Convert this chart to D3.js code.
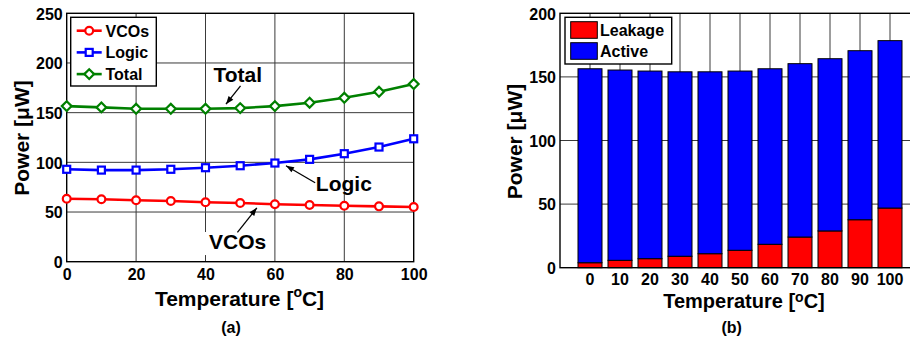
<!DOCTYPE html>
<html>
<head>
<meta charset="utf-8">
<script src="https://cdn.jsdelivr.net/npm/d3@7"></script>
<style>
    html, body { margin: 0; padding: 0; background: #fff; }
    svg { display: block; font-family: "Liberation Sans", Arial, sans-serif; }
</style>
</head>
<body>
<svg id="chart" width="910" height="343"></svg>
<script>
/////////////////////////////////
// Power vs temperature: (a) line chart, (b) stacked bars.
//

// Temperatures shared by both panels.
const temperatures = [0, 10, 20, 30, 40, 50, 60, 70, 80, 90, 100];

// Panel (a) series, in uW.
const vcoPower = [63.4, 62.8, 61.8, 61.1, 59.8, 59.1, 57.8, 57.1, 56.3, 55.7, 55.0];
const logicPower = [93.0, 92.2, 92.2, 93.0, 94.6, 96.6, 99.3, 103.0, 108.7, 115.4, 123.7];
const totalPower = [156.6, 155.3, 153.9, 153.9, 153.9, 154.6, 156.6, 160.0, 165.0, 171.0, 178.8];

// Panel (b) stacked series, in uW.
const leakagePower = [3.9, 5.8, 7.1, 9.0, 11.0, 13.7, 18.4, 24.1, 28.9, 37.7, 46.9];
const activePower = [152.5, 149.6, 147.5, 145.0, 143.0, 140.9, 138.0, 136.3, 135.4, 132.9, 131.6];

// Tick labels.
const lineXTicks = [0, 20, 40, 60, 80, 100];
const lineYTicks = [0, 50, 100, 150, 200, 250];
const barYTicks = [0, 50, 100, 150, 200];

document.addEventListener("DOMContentLoaded", () => {

    const svg = d3.select("#chart");
    const gridColor = "#3a3a3a";

    // Shared helpers for the bold MATLAB-ish text.
    const tickFont = (sel) => sel.attr("font-size", 16).attr("font-weight", "bold").attr("fill", "#000");

    const axisTitle = (g, x, y, rotate, size, parts, lift = 9) => {

        const t = g.append("text")
            .attr("font-size", size)
            .attr("font-weight", "bold")
            .attr("text-anchor", "middle")
            .attr("transform", `translate(${x},${y}) rotate(${rotate})`);
        parts.forEach((p) => {

            const span = t.append("tspan").text(p.text);
            if (p.sup) {
                span.attr("font-size", 14).attr("dy", -lift);
            } else if (p.after) {
                span.attr("dy", lift);
            }
        });
    };

    const arrowHead = (g, x1, y1, x2, y2) => {

        g.append("line")
            .attr("x1", x1).attr("y1", y1)
            .attr("x2", x2).attr("y2", y2)
            .attr("stroke", "#000")
            .attr("stroke-width", 1.3);
        const a = Math.atan2(y2 - y1, x2 - x1);
        const len = 8, w = 3;
        const pts = [
            [x2, y2],
            [x2 - len * Math.cos(a) + w * Math.sin(a), y2 - len * Math.sin(a) - w * Math.cos(a)],
            [x2 - len * Math.cos(a) - w * Math.sin(a), y2 - len * Math.sin(a) + w * Math.cos(a)]
        ];
        g.append("polygon").attr("points", pts.map((p) => p.join(",")).join(" ")).attr("fill", "#000");
    };

    //////////////////////
    // Panel (a): lines.
    //
    const a = svg.append("g");
    const xA = d3.scaleLinear().domain([0, 100]).range([66.7, 413.7]);
    const yA = d3.scaleLinear().domain([0, 250]).range([261.7, 13.3]);

    // Grid.
    a.append("g").selectAll("line.v")
        .data(lineXTicks.slice(1, -1))
        .enter().append("line")
        .attr("x1", (d) => xA(d)).attr("x2", (d) => xA(d))
        .attr("y1", yA(250)).attr("y2", yA(0))
        .attr("stroke", gridColor).attr("stroke-width", 1);
    a.append("g").selectAll("line.h")
        .data(lineYTicks.slice(1, -1))
        .enter().append("line")
        .attr("x1", xA(0)).attr("x2", xA(100))
        .attr("y1", (d) => yA(d)).attr("y2", (d) => yA(d))
        .attr("stroke", gridColor).attr("stroke-width", 1);

    // White box behind the VCOs note.
    a.append("rect")
        .attr("x", xA(39.6)).attr("y", yA(29.9))
        .attr("width", xA(59.6) - xA(39.6)).attr("height", yA(6.7) - yA(29.9))
        .attr("fill", "#fff");

    // Axes.
    const axA = a.append("g");
    axA.append("g")
        .attr("transform", `translate(0,${yA(0)})`)
        .call(d3.axisBottom(xA).tickValues(lineXTicks).tickSize(0).tickPadding(7))
        .call((g) => g.select(".domain").remove())
        .selectAll("text").call(tickFont);
    axA.append("g")
        .attr("transform", `translate(${xA(0)},0)`)
        .call(d3.axisLeft(yA).tickValues(lineYTicks).tickSize(0).tickPadding(4))
        .call((g) => g.select(".domain").remove())
        .selectAll("text").call(tickFont).attr("dy", "0.36em");
    a.append("rect")
        .attr("x", xA(0)).attr("y", yA(250))
        .attr("width", xA(100) - xA(0)).attr("height", yA(0) - yA(250))
        .attr("fill", "none").attr("stroke", "#000").attr("stroke-width", 1.4);

    // Series.
    const series = [
        { name: "VCOs", values: vcoPower, color: "#ff0000", marker: "circle" },
        { name: "Logic", values: logicPower, color: "#0000ff", marker: "square" },
        { name: "Total", values: totalPower, color: "#008000", marker: "diamond" }
    ];

    const drawMarker = (g, kind, color) => {

        if (kind === "circle") {
            g.append("circle").attr("r", 3.9);
        } else if (kind === "square") {
            g.append("rect").attr("x", -3.5).attr("y", -3.5).attr("width", 7).attr("height", 7);
        } else {
            g.append("path").attr("d", "M0,-4.9L4.9,0L0,4.9L-4.9,0Z");
        }
        g.selectAll("*").attr("fill", "#fff").attr("stroke", color).attr("stroke-width", 2.2);
    };

    const line = d3.line()
        .x((d, i) => xA(temperatures[i]))
        .y((d) => yA(d));

    series.forEach((s) => {

        a.append("path")
            .datum(s.values)
            .attr("d", line)
            .attr("fill", "none")
            .attr("stroke", s.color)
            .attr("stroke-width", 2.6);
        a.append("g").selectAll("g")
            .data(s.values)
            .enter().append("g")
            .attr("transform", (d, i) => `translate(${xA(temperatures[i])},${yA(d)})`)
            .each(function () { drawMarker(d3.select(this), s.marker, s.color); });
    });

    // Legend.
    const legA = a.append("g");
    legA.append("rect")
        .attr("x", 70.7).attr("y", 17.3).attr("width", 85.6).attr("height", 68.7)
        .attr("fill", "#fff").attr("stroke", "#000").attr("stroke-width", 1.4);
    series.forEach((s, i) => {

        const cy = 30.7 + i * 21.7;
        legA.append("line")
            .attr("x1", 76.7).attr("x2", 101.7).attr("y1", cy).attr("y2", cy)
            .attr("stroke", s.color).attr("stroke-width", 2.6);
        drawMarker(legA.append("g").attr("transform", `translate(89.2,${cy})`), s.marker, s.color);
        legA.append("text")
            .attr("x", 105.5).attr("y", cy + 6)
            .attr("font-size", 16).attr("font-weight", "bold")
            .text(s.name);
    });

    // Annotations.
    const note = (txt, x, y, anchor) => a.append("text")
        .attr("x", x).attr("y", y)
        .attr("text-anchor", anchor)
        .attr("font-size", 21).attr("font-weight", "bold")
        .text(txt);
    note("Total", xA(49.3), yA(181), "middle");
    arrowHead(a, xA(50.1), yA(177), xA(45.9), yA(158.5));
    note("Logic", xA(71.8), yA(71.1), "start");
    arrowHead(a, xA(71.6), yA(79.5), xA(63.2), yA(96.6));
    note("VCOs", xA(41.0), yA(12.8), "start");
    arrowHead(a, xA(49.2), yA(29.6), xA(54.8), yA(54.2));

    // Titles.
    axisTitle(a, 29, 138, -90, 21, [{ text: "Power [\u03bcW]" }]);
    axisTitle(a, 239.5, 306, 0, 21, [{ text: "Temperature [" }, { text: "o", sup: true }, { text: "C]", after: true }]);
    a.append("text")
        .attr("x", 231).attr("y", 333)
        .attr("text-anchor", "middle")
        .attr("font-size", 16).attr("font-weight", "bold")
        .text("(a)");

    //////////////////////
    // Panel (b): stacked bars.
    //
    const b = svg.append("g");
    const xB = d3.scaleBand()
        .domain(temperatures)
        .range([560, 920])
        .paddingInner(0.2)
        .paddingOuter(0.6);
    const yB = d3.scaleLinear().domain([0, 200]).range([267.7, 13.3]);
    const right = 920;

    // Grid.
    b.append("g").selectAll("line")
        .data(temperatures)
        .enter().append("line")
        .attr("x1", (d) => xB(d) + xB.bandwidth() / 2).attr("x2", (d) => xB(d) + xB.bandwidth() / 2)
        .attr("y1", yB(200)).attr("y2", yB(0))
        .attr("stroke", gridColor).attr("stroke-width", 1);
    b.append("g").selectAll("line")
        .data(barYTicks.slice(1, -1))
        .enter().append("line")
        .attr("x1", 560).attr("x2", right)
        .attr("y1", (d) => yB(d)).attr("y2", (d) => yB(d))
        .attr("stroke", gridColor).attr("stroke-width", 1);

    // Bars.
    const stacked = d3.stack().keys(["leakage", "active"])(
        temperatures.map((t, i) => ({ t: t, leakage: leakagePower[i], active: activePower[i] }))
    );
    const barColors = { leakage: "#ff0000", active: "#0000ff" };
    stacked.forEach((layer) => {

        b.append("g").selectAll("rect")
            .data(layer)
            .enter().append("rect")
            .attr("x", (d) => xB(d.data.t))
            .attr("width", xB.bandwidth())
            .attr("y", (d) => yB(d[1]))
            .attr("height", (d) => yB(d[0]) - yB(d[1]))
            .attr("fill", barColors[layer.key])
            .attr("stroke", "#000")
            .attr("stroke-width", 1);
    });

    // Axes.
    b.append("g")
        .attr("transform", `translate(0,${yB(0)})`)
        .call(d3.axisBottom(xB).tickSize(0).tickPadding(6))
        .call((g) => g.select(".domain").remove())
        .selectAll("text").call(tickFont);
    b.append("g")
        .attr("transform", "translate(560,0)")
        .call(d3.axisLeft(yB).tickValues(barYTicks).tickSize(0).tickPadding(4))
        .call((g) => g.select(".domain").remove())
        .selectAll("text").call(tickFont).attr("dy", "0.36em");
    b.append("rect")
        .attr("x", 560).attr("y", yB(200))
        .attr("width", right - 560).attr("height", yB(0) - yB(200))
        .attr("fill", "none").attr("stroke", "#000").attr("stroke-width", 1.4);

    // Legend.
    const legB = b.append("g");
    legB.append("rect")
        .attr("x", 565).attr("y", 17.3).attr("width", 106.7).attr("height", 46.7)
        .attr("fill", "#fff").attr("stroke", "#000").attr("stroke-width", 1.4);
    [["Leakage", "leakage"], ["Active", "active"]].forEach(([label, key], i) => {

        const top = 21.7 + i * 21;
        legB.append("rect")
            .attr("x", 570.7).attr("y", top).attr("width", 26.6).attr("height", 16.6)
            .attr("fill", barColors[key]).attr("stroke", "#000").attr("stroke-width", 1);
        legB.append("text")
            .attr("x", 600).attr("y", top + 14.3)
            .attr("font-size", 16).attr("font-weight", "bold")
            .text(label);
    });

    // Titles.
    axisTitle(b, 522, 141.5, -90, 21, [{ text: "Power [\u03bcW]" }]);
    axisTitle(b, 744, 308, 0, 20, [{ text: "Temperature [" }, { text: "o", sup: true }, { text: "C]", after: true }], 6);
    b.append("text")
        .attr("x", 731.7).attr("y", 333)
        .attr("text-anchor", "middle")
        .attr("font-size", 16).attr("font-weight", "bold")
        .text("(b)");
});
</script>
</body>
</html>
